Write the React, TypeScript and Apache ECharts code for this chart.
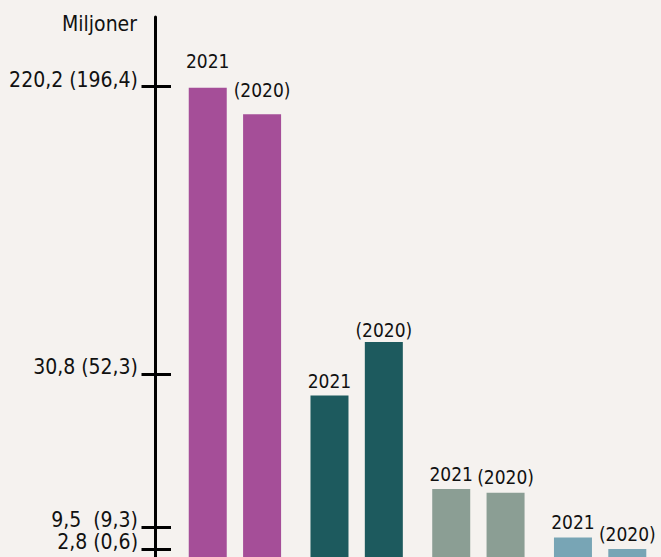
import React, { useEffect, useRef } from 'react';
import * as echarts from 'echarts';

// Category groups (not labelled in the picture)
const categories = ['Gruppe 1', 'Gruppe 2', 'Gruppe 3', 'Gruppe 4'];
const seriesNames = ['2021', '(2020)'];
// Values shown on the axis (millions)
const values2021 = [220.2, 30.8, 9.5, 2.8];
const values2020 = [196.4, 52.3, 9.3, 0.6];
// Bar heights on the chart's illustrative (non-linear) vertical scale, 0–100
const barHeights2021 = [86.9, 29.9, 12.6, 3.6];
const barHeights2020 = [82.0, 39.8, 11.9, 1.5];
// Tick positions on that same scale, with their labels
const tickPositions = [87.1, 33.9, 5.5, 1.5];
const tickLabels = ['220,2 (196,4)', '30,8 (52,3)', '9,5  (9,3)', '2,8 (0,6)'];

const groupColors = ['#a54e98', '#1d5a5e', '#8b9e94', '#78a5b5'];
const labelDist2021 = [17, 5.5, 5.5, 6];
const labelDist2020 = [15, 3, 6, 5];

const FONT = '"DejaVu Sans Condensed", "DejaVu Sans", sans-serif';
const BG = '#f5f2ef';

export default function App() {
  const ref = useRef<HTMLDivElement>(null);
  useEffect(() => {
    document.body.style.margin = '0';
    document.body.style.background = BG;
    if (!ref.current) return;
    const chart = echarts.init(ref.current, undefined, { renderer: 'svg' });

    const labelFor = (v: number) => {
      let best = 0;
      tickPositions.forEach((p, i) => {
        if (Math.abs(p - v) < Math.abs(tickPositions[best] - v)) best = i;
      });
      return tickLabels[best];
    };

    const gridGeom = { left: 174.05, right: -5.45, top: 17, bottom: 0, containLabel: false };

    const hiddenX = {
      type: 'category',
      data: categories,
      axisLine: { show: false },
      axisTick: { show: false },
      axisLabel: { show: false },
      splitLine: { show: false },
    };

    const makeSeries = (name: string, heights: number[], dists: number[], reals: number[]) => ({
      name,
      type: 'bar',
      barWidth: 38,
      barGap: '43%',
      data: heights.map((h, i) => ({
        value: h,
        realValue: reals[i],
        itemStyle: { color: groupColors[i] },
        label: { distance: dists[i] },
      })),
      label: {
        show: true,
        position: 'top',
        formatter: () => name,
        fontFamily: FONT,
        fontSize: 19,
        color: '#111',
      },
    });

    chart.setOption({
      animation: false,
      backgroundColor: BG,
      grid: [gridGeom, { ...gridGeom }],
      xAxis: [
        { ...hiddenX, gridIndex: 0 },
        { ...hiddenX, gridIndex: 1 },
      ],
      yAxis: [
        {
          // ticks (crossing the axis line) and their labels
          type: 'value',
          min: 0,
          max: 100,
          position: 'left',
          offset: 3.05,
          gridIndex: 0,
          splitLine: { show: false },
          axisLine: { show: false },
          axisTick: {
            show: true,
            inside: false,
            length: 29.5,
            customValues: tickPositions,
            lineStyle: { color: '#000', width: 3 },
          },
          axisLabel: {
            show: true,
            customValues: tickPositions,
            formatter: (v: number) => labelFor(v),
            margin: 33,
            fontFamily: FONT,
            fontSize: 21,
            color: '#111',
            verticalAlign: 'bottom',
            lineHeight: 14,
          },
        },
        {
          // the vertical axis line
          type: 'value',
          min: 0,
          max: 100,
          position: 'left',
          offset: 18.55,
          gridIndex: 1,
          splitLine: { show: false },
          axisLine: { show: true, lineStyle: { color: '#000', width: 3 } },
          axisTick: { show: false },
          axisLabel: { show: false },
        },
      ],
      graphic: [
        {
          type: 'text',
          right: 524,
          top: 13,
          style: {
            text: 'Miljoner',
            fontFamily: FONT,
            fontSize: 21,
            fill: '#111',
          },
        },
      ],
      series: [
        makeSeries(seriesNames[0], barHeights2021, labelDist2021, values2021),
        makeSeries(seriesNames[1], barHeights2020, labelDist2020, values2020),
      ],
    });
    return () => chart.dispose();
  }, []);
  return <div ref={ref} style={{ width: 661, height: 557, background: BG }} />;
}
